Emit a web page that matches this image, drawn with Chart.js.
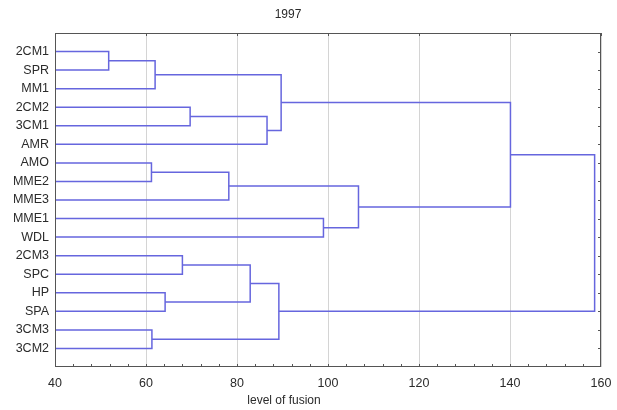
<!DOCTYPE html>
<html lang="en">
<head>
  <meta charset="UTF-8" />
  <title>1997 dendrogram</title>
  <script src="https://cdn.jsdelivr.net/npm/chart.js"></script>
  <style>
    body { margin: 0; background: #fff; }
    .wrap { width: 617px; height: 410px; position: relative; }
  </style>
</head>
<body>
  <div class="wrap"><canvas id="dendro"></canvas></div>

  <script>
    // leaves, top to bottom
    const leaves = ['2CM1', 'SPR', 'MM1', '2CM2', '3CM1', 'AMR', 'AMO', 'MME2', 'MME3',
                    'MME1', 'WDL', '2CM3', 'SPC', 'HP', 'SPA', '3CM3', '3CM2'];
    // merges, linkage style: new cluster ids start at leaves.length (17)
    const mergeLeft  = [0, 6, 15, 17, 13, 11, 3, 18, 22, 23, 25, 20, 9, 24, 28, 31];
    const mergeRight = [1, 7, 16, 2, 14, 12, 4, 8, 21, 5, 19, 26, 10, 29, 30, 27];
    const mergeLevel = [51.8, 61.2, 61.3, 62, 64.2, 68, 69.7, 78.2, 82.9, 86.6, 89.2, 89.7, 99, 106.7, 140.1, 158.6];
    const xTicks = [40, 60, 80, 100, 120, 140, 160];

    const lineColor = 'rgb(102, 102, 222)';
    const textColor = '#2b2b2b';
    const font = 'Liberation Sans, Arial, sans-serif';

    // node positions: leaves start at the axis minimum, clusters at their fusion level
    const nodes = leaves.map((_, i) => ({ x: xTicks[0], y: i + 1 }));
    const datasets = [];
    mergeLevel.forEach((h, k) => {
      const a = nodes[mergeLeft[k]];
      const b = nodes[mergeRight[k]];
      datasets.push({
        data: [
          { x: a.x, y: a.y }, { x: h, y: a.y },
          { x: h, y: b.y }, { x: b.x, y: b.y }
        ],
        showLine: true,
        borderColor: lineColor,
        borderWidth: 1.5,
        pointRadius: 0,
        fill: false
      });
      nodes.push({ x: h, y: (a.y + b.y) / 2 });
    });

    // frame, little ticks and the two titles
    const decor = {
      id: 'decor',
      afterDraw(chart) {
        const c = chart.ctx;
        const { left, right, top, bottom } = chart.chartArea;
        const xs = chart.scales.x, ys = chart.scales.y;
        c.save();
        c.strokeStyle = '#555';
        c.lineWidth = 1;
        c.strokeRect(left + 0.5, top + 0.5, right - left - 1, bottom - top - 1);
        c.beginPath();
        for (let v = xTicks[0] + 4; v < xTicks[xTicks.length - 1]; v += 4) {
          const px = Math.round(xs.getPixelForValue(v)) + 0.5;
          c.moveTo(px, bottom);
          c.lineTo(px, bottom - 3);
        }
        xTicks.forEach(v => {
          const px = Math.round(xs.getPixelForValue(v)) + 0.5;
          c.moveTo(px, top);
          c.lineTo(px, top + 3);
        });
        leaves.forEach((_, i) => {
          const py = Math.round(ys.getPixelForValue(i + 1)) + 0.5;
          c.moveTo(right - 3, py);
          c.lineTo(right, py);
        });
        c.stroke();
        c.fillStyle = textColor;
        c.textAlign = 'center';
        c.textBaseline = 'middle';
        c.font = '12px ' + font;
        c.fillText('1997', 288, 15);
        c.fillText('level of fusion', 284, 401);
        c.restore();
      }
    };

    new Chart(document.getElementById('dendro'), {
      type: 'scatter',
      data: { datasets },
      options: {
        responsive: true,
        maintainAspectRatio: false,
        animation: false,
        layout: { padding: { top: 33, right: 16, left: 0, bottom: 0 } },
        plugins: { legend: { display: false }, tooltip: { enabled: false } },
        scales: {
          x: {
            type: 'linear',
            min: 40,
            max: 160,
            afterBuildTicks: s => { s.ticks = xTicks.map(v => ({ value: v })); },
            afterFit: s => { s.height = 43; s.paddingLeft = 0; s.paddingRight = 0; },
            grid: { color: '#d4d4d4', drawTicks: false },
            border: { display: false },
            ticks: { color: textColor, font: { family: font, size: 12.5 }, padding: 9 }
          },
          y: {
            type: 'linear',
            min: 0,
            max: 18,
            reverse: true,
            afterBuildTicks: s => { s.ticks = leaves.map((_, i) => ({ value: i + 1 })); },
            afterFit: s => { s.width = 55; s.paddingTop = 0; s.paddingBottom = 0; },
            grid: { display: false, drawTicks: false },
            border: { display: false },
            ticks: {
              color: textColor,
              font: { family: font, size: 12.5 },
              padding: 6,
              autoSkip: false,
              callback: v => leaves[v - 1] || ''
            }
          }
        }
      },
      plugins: [decor]
    });
  </script>
</body>
</html>
